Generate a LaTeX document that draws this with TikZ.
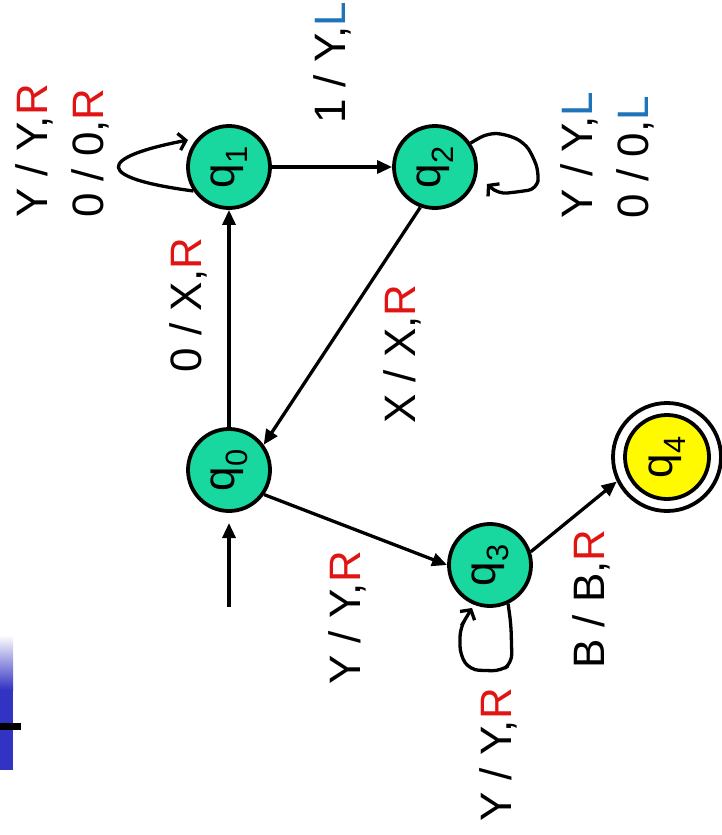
\documentclass[tikz,border=0pt]{standalone}
\usepackage{fontspec}
\usepackage{graphicx}
\setmainfont{Liberation Sans}
\usetikzlibrary{arrows.meta}
\definecolor{stategreen}{RGB}{24,216,160}
\definecolor{acceptyellow}{RGB}{255,250,0}
\definecolor{headR}{RGB}{225,20,20}
\definecolor{headL}{RGB}{30,115,185}
\definecolor{slideblue}{RGB}{50,50,195}
\newcommand\mvR{\textcolor{headR}{R}}
\newcommand\mvL{\textcolor{headL}{L}}
\newcommand\stname[1]{\rotatebox{90}{q\textsubscript{#1}}}
\begin{document}
\begin{tikzpicture}[x=1pt,y=-1pt,
  state/.style={circle,draw,line width=3.8pt,fill=stategreen,minimum size=82pt,
    inner sep=0pt,font=\fontsize{44}{44}\selectfont},
  arr/.style={line width=3.3pt,-{Triangle[length=15pt,width=13pt]}},
  looparr/.style={line width=3.3pt,rounded corners=9pt,-{Straight Barb[length=7pt,width=17pt]}},
  lbl/.style={rotate=90,font=\fontsize{44}{56}\selectfont,align=left,inner sep=0pt}]
\useasboundingbox (0,0) rectangle (722,835);

% slide decoration on the left edge
\shade[top color=white,bottom color=slideblue] (0,635) rectangle (13,690);
\fill[slideblue] (0,690) rectangle (13,770);
\fill[black] (0,723) rectangle (21,730);

% states
\node[state] (q0) at (229,470) {\stname{0}};
\node[state] (q1) at (229,167) {\stname{1}};
\node[state] (q2) at (435,167) {\stname{2}};
\node[state] (q3) at (490,565) {\stname{3}};
\node[circle,draw,line width=3.8pt,fill=white,minimum size=108pt] (q4o) at (667,457) {};
\node[state,fill=acceptyellow,minimum size=84pt] (q4) at (667,457) {\stname{4}};

% start arrow
\coordinate (s0) at (229,607);
\coordinate (s1) at (229,523);
\draw[arr] (s0) -- (s1);

% transitions
\draw[arr] (q0) -- (q1);
\draw[arr] (q1) -- (q2);
\draw[arr] (q2.250) -- (q0.36);
\draw[arr] (q0.-35) -- (q3.west);
\draw[arr] (q3.18) -- (q4o.206);

% self loops
\draw[looparr,rounded corners=0pt] (q1.214) .. controls (95,178) and (95,158) .. (188,140);
\draw[looparr] (q2.34) -- (488,133) -- (505,134) -- (524,142) -- (533,156)
  -- (539,173) -- (537,189) -- (517,192) -- (498,194) -- (487,184);
\draw[looparr] (q3.-65) -- (511,625) -- (512,663) -- (501,671) -- (470,670)
  -- (460,655) -- (460,628) -- (466,618) -- (472,608);

% transition labels
\node[lbl] (l11) at (62,151) {Y / Y,\mvR\\0 / 0,\mvR};
\node[lbl] (l12) at (332,63) {1 / Y,\mvL};
\node[lbl] (l22) at (607,155) {Y / Y,\mvL\\0 / 0,\mvL};
\node[lbl] (l01) at (188,305) {0 / X,\mvR};
\node[lbl] (l20) at (402,354) {X / X,\mvR};
\node[lbl] (l03) at (347,618) {Y / Y,\mvR};
\node[lbl] (l33) at (498,755) {Y / Y,\mvR};
\node[lbl] (l34) at (591,599) {B / B,\mvR};
\end{tikzpicture}
\end{document}
